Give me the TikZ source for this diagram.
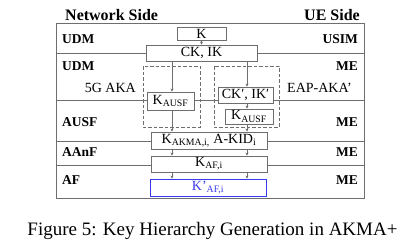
\documentclass[tikz,border=0pt]{standalone}
\usepackage{fontspec}
\setmainfont{Liberation Serif}
\usetikzlibrary{arrows.meta}
\definecolor{linegray}{HTML}{6E6E6E}
\definecolor{keyblue}{HTML}{3A3AF0}
\begin{document}
\begin{tikzpicture}[x=1pt,y=-1pt,
  box/.style={draw=linegray,line width=0.9pt,fill=white,inner sep=0pt,font=\fontsize{14}{14}\selectfont},
  dbox/.style={draw=linegray,line width=0.8pt,dash pattern=on 3.5pt off 2pt},
  sep/.style={draw=linegray,line width=0.9pt},
  arr/.style={draw=linegray,line width=0.6pt,-{Stealth[length=3pt,width=3pt]}},
  lbl/.style={font=\fontsize{13.5}{13.5}\selectfont\bfseries,inner sep=0pt},
  rlbl/.style={font=\fontsize{14}{14}\selectfont,inner sep=0pt},
  hdr/.style={font=\fontsize{16}{16}\selectfont\bfseries,inner sep=0pt}]
\useasboundingbox (0,0) rectangle (411,247);
% frame and separators
\draw[sep] (56,23) rectangle (364,198);
\draw[sep] (56,53) -- (364,53);
\draw[sep] (56,100) -- (364,100);
\draw[sep] (56,141) -- (364,141);
\draw[sep] (56,165) -- (364,165);
% dashed groups
\draw[dbox] (143,66) rectangle (200,127);
\draw[dbox] (214,66) rectangle (279,127);
% headers
\node[hdr,anchor=west] (hn) at (65,15) {Network Side};
\node[hdr,anchor=east] (hu) at (360,15) {UE Side};
% row labels
\node[lbl,anchor=west] (l1) at (62,39) {UDM};
\node[lbl,anchor=east] (r1) at (358,39) {USIM};
\node[lbl,anchor=west] (l2) at (62,66) {UDM};
\node[lbl,anchor=east] (r2) at (358,66) {ME};
\node[rlbl,anchor=east] (g5) at (136,87.5) {5G AKA};
\node[rlbl,anchor=west] (eap) at (287,87.5) {EAP-AKA’};
\node[lbl,anchor=west] (l3) at (62,122) {AUSF};
\node[lbl,anchor=east] (r3) at (358,122) {ME};
\node[lbl,anchor=west] (l4) at (62,152.5) {AAnF};
\node[lbl,anchor=east] (r4) at (358,152.5) {ME};
\node[lbl,anchor=west] (l5) at (62,180.5) {AF};
\node[lbl,anchor=east] (r5) at (358,180.5) {ME};
% key boxes
\node[box,minimum width=49,minimum height=13] (K) at (201.5,33.5) {K};
\node[box,minimum width=111,minimum height=16] (CKIK) at (201.5,53) {CK, IK};
\node[box,minimum width=47,minimum height=18] (KAl) at (170.5,101) {K\textsubscript{AUSF}};
\node[box,minimum width=55,minimum height=16] (CKp) at (245.5,95) {CK′, IK′};
\node[box,minimum width=48,minimum height=15] (KAr) at (249,116.5) {K\textsubscript{AUSF}};
\node[box,minimum width=116,minimum height=17] (KAKMA) at (209,140.5) {K\textsubscript{AKMA,i,} A-KID\textsubscript{i}};
\node[box,minimum width=116,minimum height=16] (KAF) at (209,164) {K\textsubscript{AF,i}};
\node[box,draw=keyblue,text=keyblue,minimum width=116,minimum height=17] (KpAF) at (208,187.5) {K'\textsubscript{AF,i}};
% arrow columns
\coordinate (cl) at (172,0);
\coordinate (cr) at (247,0);
\draw[arr] (K) -- (CKIK);
\draw[arr] (CKIK.south -| cl) -- (KAl.north -| cl);
\draw[arr] (CKIK.south -| cr) -- (CKp.north -| cr);
\draw[arr] (CKp.south -| cr) -- (KAr.north -| cr);
\draw[arr] (KAl.south -| cl) -- (KAKMA.north -| cl);
\draw[arr] (KAr.south -| cr) -- (KAKMA.north -| cr);
\draw[arr] (KAKMA.south -| cl) -- (KAF.north -| cl);
\draw[arr] (KAKMA.south -| cr) -- (KAF.north -| cr);
\draw[arr] (KAF.south -| cl) -- (KpAF.north -| cl);
\draw[arr] (KAF.south -| cr) -- (KpAF.north -| cr);
% caption
\node[font=\fontsize{19}{19}\selectfont,inner sep=0pt] (cap) at (212.5,231) {Figure 5: Key Hierarchy Generation in AKMA+};
\end{tikzpicture}
\end{document}
